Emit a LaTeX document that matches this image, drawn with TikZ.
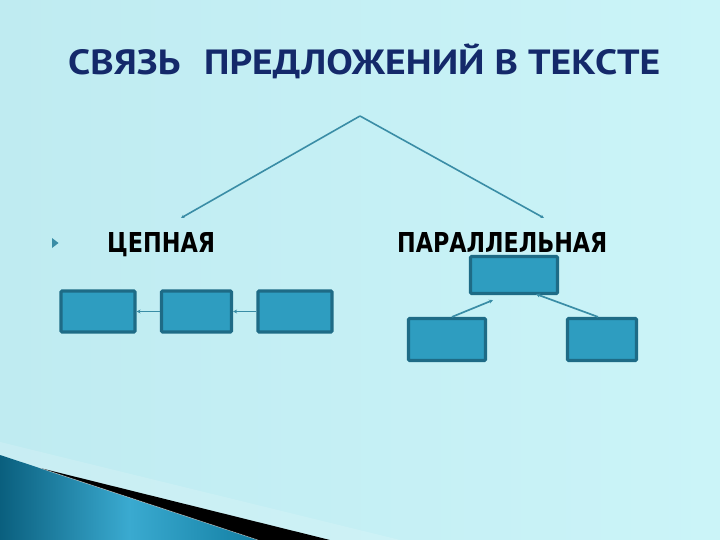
\documentclass[tikz,border=0pt]{standalone}
\usepackage{fontspec}
\usepackage{graphicx}
\newfontfamily\titlefont{PT Sans}
\newfontfamily\labelfont{DejaVu Sans}
\usetikzlibrary{arrows.meta,calc}
\definecolor{bgA}{HTML}{BFEBF1}
\definecolor{bgB}{HTML}{CBF4F8}
\definecolor{navy}{HTML}{14296A}
\definecolor{linec}{HTML}{3A8DA6}
\definecolor{boxfill}{HTML}{2E9DC0}
\definecolor{boxdraw}{HTML}{1E6B86}
\definecolor{wedgeA}{HTML}{0A5F7E}
\definecolor{wedgeB}{HTML}{3AAAD0}
\definecolor{wedgeC}{HTML}{137FA3}
\tikzset{
  x=1pt, y=-1pt,
  blockbox/.style={draw=boxdraw, fill=boxfill, line width=3.2pt, rounded corners=1.2pt,
    minimum width=#1, minimum height=41pt, inner sep=0pt},
  blockbox/.default=73pt,
  conn/.style={draw=linec, line width=1.7pt, -{Stealth[length=4pt,width=4pt]}},
  thinconn/.style={draw=linec, line width=1.6pt, -{Stealth[length=3.5pt,width=3.5pt]}},
  heading/.style={inner sep=0pt, anchor=base west, text=navy},
  lbl/.style={inner sep=0pt, anchor=base west, text=black}
}
\begin{document}
\begin{tikzpicture}
\useasboundingbox (0,0) rectangle (720,540);
\shade[left color=bgA, right color=bgB] (0,0) rectangle (720,540);
% bottom-left decoration
\fill[white, opacity=0.15] (0,442) -- (400,540) -- (330,540) -- (40,468) -- (0,455) -- cycle;
\shade[left color=wedgeA, right color=wedgeC, middle color=wedgeB] (0,455) -- (258,540) -- (0,540) -- cycle;
\fill[black] (40,468) -- (330,540) -- (258,540) -- cycle;
\draw[white, opacity=0.5, line width=0.6pt] (40,468) -- (258,540);
% title
\node[heading] (title) at (68,75) {\resizebox{592pt}{25pt}{\titlefont\bfseries СВЯЗЬ\hspace{0.6em}ПРЕДЛОЖЕНИ\smash{Й} В ТЕКСТЕ}};
% branching lines
\coordinate (apex) at (360,116);
\coordinate (lend) at (181,218);
\coordinate (rend) at (544,218);
\draw[thinconn] (apex) -- (lend);
\draw[thinconn] (apex) -- (rend);
% bullet
\fill[linec] (52,238) -- (58.5,243) -- (52,248) -- cycle;
% labels
\node[lbl] (chain) at (107,253) {\resizebox{108pt}{20pt}{\labelfont\bfseries ЦЕПНАЯ}};
\node[lbl] (par) at (397,253) {\resizebox{210pt}{20pt}{\labelfont\bfseries ПАРАЛЛЕЛЬНАЯ}};
% chain boxes
\node[blockbox=74pt] (a1) at (98,311.5) {};
\node[blockbox=70pt] (a2) at (196.5,311.5) {};
\node[blockbox=74pt] (a3) at (295,311.5) {};
\draw[conn] (a2.west) -- (a1.east);
\draw[conn] (a3.west) -- (a2.east);
% parallel boxes
\node[blockbox=87pt, minimum height=37pt] (p0) at (514,275) {};
\node[blockbox=77pt, minimum height=42pt] (p1) at (447,339.5) {};
\node[blockbox=69pt, minimum height=42pt] (p2) at (602,339.5) {};
\draw[conn] ([xshift=5pt]p1.north) -- ([xshift=-21pt,yshift=-5pt]p0.south);
\draw[conn] ([xshift=-4pt]p2.north) -- ([xshift=22pt,yshift=1pt]p0.south);
\end{tikzpicture}
\end{document}
